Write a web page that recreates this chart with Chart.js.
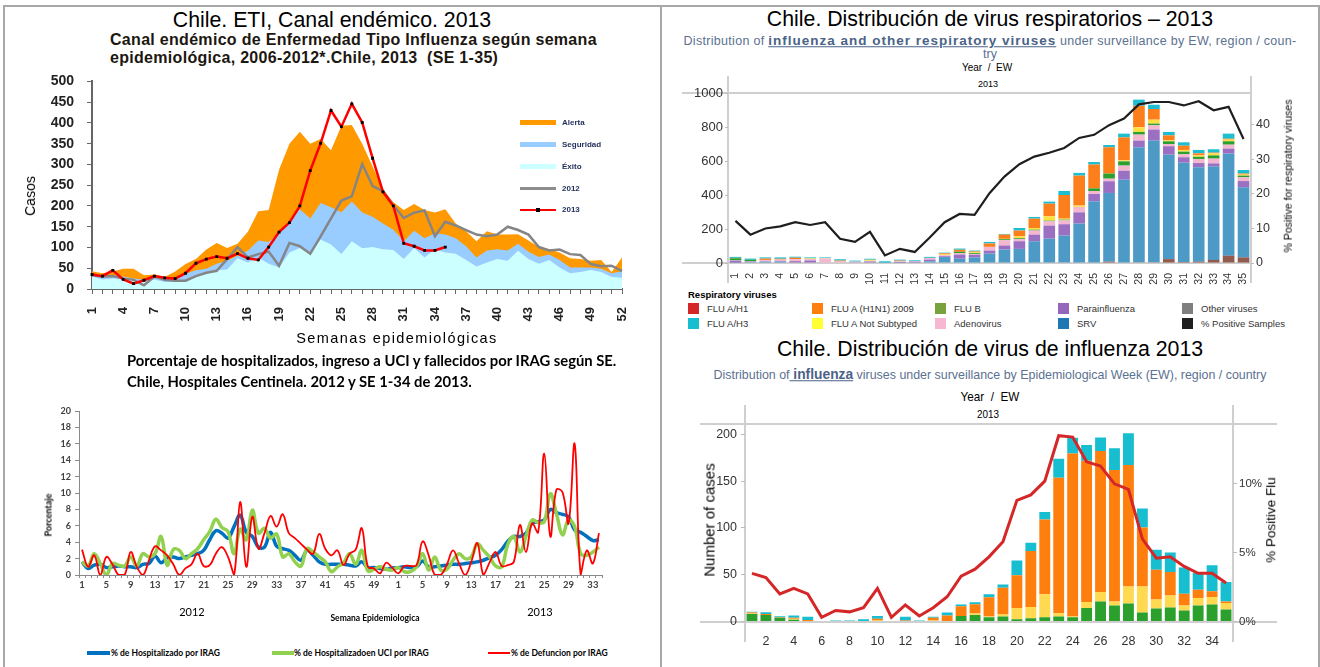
<!DOCTYPE html>
<html lang="es">
<head>
<meta charset="utf-8">
<title>Chile 2013 – vigilancia de influenza</title>
<script src="https://cdn.jsdelivr.net/npm/chart.js@4.4.1/dist/chart.umd.min.js"></script>
<style>
  html, body { margin: 0; padding: 0; background: #fff; }
  #page { position: relative; width: 1320px; height: 667px; overflow: hidden;
          font-family: "Liberation Sans", Arial, sans-serif; color: #000; }
  .t { position: absolute; white-space: nowrap; transform: translate(-50%, -50%); line-height: 1; }
  .l { position: absolute; white-space: nowrap; transform: translateY(-50%); line-height: 1; }
  .v { position: absolute; white-space: nowrap; transform: translate(-50%, -50%) rotate(-90deg); line-height: 1; }
  .rule { position: absolute; background: #a8a8a8; }
  .hair { position: absolute; background: #cfcfcf; }
  .sw { position: absolute; }
  canvas { position: absolute; }
  .cal { font-family: Lato, "Open Sans", sans-serif; }
  .sub { color: #5b7191; }
  .sub b { color: #4a6386; text-decoration: underline; }
  .big { font-size: 21.3px; }
</style>
</head>
<body>
<div id="page">
  <!-- marco de la tabla -->
  <div class="rule" style="left:3px;top:5px;width:1317px;height:2px"></div>
  <div class="rule" style="left:3px;top:5px;width:2px;height:662px"></div>
  <div class="rule" style="left:660px;top:5px;width:2px;height:662px"></div>
  <div class="rule" style="left:1318px;top:5px;width:2px;height:662px"></div>

  <!-- 1. canal endemico -->
  <div class="t big" style="left:332px;top:21px">Chile. ETI, Canal endémico. 2013</div>
  <div class="l" style="left:110px;top:40px;font-size:16px;font-weight:bold;letter-spacing:0.3px;color:#1c1710">Canal endémico de Enfermedad Tipo Influenza según semana</div>
  <div class="l" style="left:110px;top:58px;font-size:16px;font-weight:bold;letter-spacing:0.3px;color:#1c1710">epidemiológica, 2006-2012*.Chile, 2013&nbsp; (SE 1-35)</div>
  <canvas id="c1" width="660" height="290" style="left:0;top:60px"></canvas>
  <div class="v" style="left:30px;top:196px;font-size:14px">Casos</div>
  <div class="t" style="left:397px;top:338px;font-size:14.5px;letter-spacing:1.4px">Semanas epidemiológicas</div>
  <div class="sw" style="left:520px;top:120px;width:36px;height:5px;background:#ff9900"></div>
  <div class="l" style="left:562px;top:123px;font-size:8px;font-weight:bold;color:#1f2d5a">Alerta</div>
  <div class="sw" style="left:520px;top:142px;width:36px;height:5px;background:#99ccff"></div>
  <div class="l" style="left:562px;top:145px;font-size:8px;font-weight:bold;color:#1f2d5a">Seguridad</div>
  <div class="sw" style="left:520px;top:164px;width:36px;height:5px;background:#ccffff"></div>
  <div class="l" style="left:562px;top:167px;font-size:8px;font-weight:bold;color:#1f2d5a">Éxito</div>
  <div class="sw" style="left:520px;top:187px;width:36px;height:3px;background:#8c8c8c"></div>
  <div class="l" style="left:562px;top:189px;font-size:8px;font-weight:bold;color:#1f2d5a">2012</div>
  <div class="sw" style="left:520px;top:209px;width:36px;height:2px;background:#ff0000"></div>
  <div class="sw" style="left:536px;top:208px;width:4px;height:4px;background:#000"></div>
  <div class="l" style="left:562px;top:210px;font-size:8px;font-weight:bold;color:#1f2d5a">2013</div>

  <!-- 2. hospitalizados -->
  <div class="l cal" style="left:127px;top:360px;font-size:14.8px;font-weight:700">Porcentaje de hospitalizados, ingreso a UCI y fallecidos por IRAG según SE.</div>
  <div class="l cal" style="left:127px;top:381px;font-size:14.8px;font-weight:700">Chile, Hospitales Centinela. 2012 y SE 1-34 de 2013.</div>
  <canvas id="c2" width="660" height="230" style="left:0;top:395px"></canvas>
  <div class="v cal" style="left:48px;top:515px;font-size:9px;font-weight:700">Porcentaje</div>
  <div class="t cal" style="left:192px;top:611px;font-size:11px">2012</div>
  <div class="t cal" style="left:540px;top:611px;font-size:11px">2013</div>
  <div class="t cal" style="left:375px;top:618px;font-size:8.5px;font-weight:700">Semana Epidemiologica</div>
  <div class="sw" style="left:87px;top:651px;width:23px;height:4px;background:#0070c0"></div>
  <div class="l cal" style="left:111px;top:653px;font-size:8.5px;font-weight:700">% de Hospitalizado por IRAG</div>
  <div class="sw" style="left:272px;top:651px;width:22px;height:4px;background:#92d050"></div>
  <div class="l cal" style="left:294px;top:653px;font-size:8.5px;font-weight:700">% de Hospitalizadoen UCI por IRAG</div>
  <div class="sw" style="left:488px;top:652px;width:22px;height:2px;background:#ff0000"></div>
  <div class="l cal" style="left:511px;top:653px;font-size:8.5px;font-weight:700">% de Defuncion por IRAG</div>

  <!-- 3. virus respiratorios -->
  <div class="t big" style="left:990px;top:20px">Chile. Distribución de virus respiratorios – 2013</div>
  <div class="t sub" style="left:990px;top:41px;font-size:12.5px;letter-spacing:0.3px">Distribution of <b style="font-size:13.5px;letter-spacing:1px">influenza and other respiratory viruses</b> under surveillance by EW, region / coun-</div>
  <div class="t sub" style="left:990px;top:54px;font-size:12.5px">try</div>
  <div class="t" style="left:987px;top:68px;font-size:10px">Year&nbsp; /&nbsp; EW</div>
  <div class="t" style="left:988px;top:84px;font-size:9px">2013</div>
  <div class="hair" style="left:682px;top:92px;width:570px;height:2px"></div>
  <div class="hair" style="left:682px;top:262px;width:570px;height:2px"></div>
  <div class="hair" style="left:727px;top:76px;width:2px;height:207px"></div>
  <div class="hair" style="left:1250px;top:76px;width:2px;height:207px"></div>
  <canvas id="c3" width="658" height="225" style="left:662px;top:60px"></canvas>
  <div class="v" style="left:1288px;top:176px;font-size:10.5px">% Positive for respiratory viruses</div>
  <div class="l" style="left:688px;top:295px;font-size:9.5px;font-weight:bold">Respiratory viruses</div>
  <div id="legend3"></div>

  <!-- 4. virus de influenza -->
  <div class="t big" style="left:990px;top:350px">Chile. Distribución de virus de influenza 2013</div>
  <div class="t sub" style="left:990px;top:374px;font-size:13.5px;transform:translate(-50%,-50%) scaleX(0.92)">Distribution of<b style="font-size:15px"> influenza</b> viruses under surveillance by Epidemiological Week (EW), region / country</div>
  <div class="t" style="left:990px;top:396px;font-size:13px;transform:translate(-50%,-50%) scaleX(0.9)">Year&nbsp; /&nbsp; EW</div>
  <div class="t" style="left:988px;top:414px;font-size:11px;transform:translate(-50%,-50%) scaleX(0.9)">2013</div>
  <div class="hair" style="left:700px;top:423px;width:577px;height:2px"></div>
  <div class="hair" style="left:700px;top:621px;width:577px;height:2px"></div>
  <div class="hair" style="left:744px;top:405px;width:2px;height:237px"></div>
  <div class="hair" style="left:1232px;top:405px;width:2px;height:237px"></div>
  <canvas id="c4" width="658" height="250" style="left:662px;top:400px"></canvas>
  <div class="v" style="left:709px;top:520px;font-size:15px">Number of cases</div>
  <div class="v" style="left:1271px;top:520px;font-size:13.5px">% Positive Flu</div>
</div>

<script>
// ---- datos: canal endemico ETI (semanas 1-52) ----
const semanas52 = Array.from({ length: 52 }, (_, i) => String(i + 1));
const alerta = [43,38,42,49,49,33,35,29,42,60,72,95,111,99,109,138,187,190,287,350,379,350,361,334,393,395,350,295,240,209,190,205,190,184,192,158,139,115,139,131,131,132,117,101,96,88,74,72,68,70,41,76];
const seguridad = [33,30,32,30,25,22,28,25,25,37,45,49,61,68,80,92,117,113,134,162,192,170,207,197,185,211,184,174,158,143,115,140,122,134,131,122,103,76,93,96,93,109,90,77,83,70,52,52,52,49,38,43];
const exito = [30,23,25,25,20,17,23,17,17,17,29,41,45,47,74,64,76,61,52,88,99,84,119,107,84,115,98,101,96,94,72,99,76,96,88,85,70,54,64,72,68,92,72,61,70,52,38,41,46,41,29,27];
const casos2012 = [33,30,31,25,22,9,30,22,20,20,31,39,44,72,101,76,84,90,56,111,103,85,127,170,213,223,301,248,236,201,171,184,189,127,162,153,142,131,127,131,150,142,131,101,93,95,84,82,60,55,56,43];
const casos2013 = [35,31,45,23,13,21,31,27,25,38,62,72,78,74,85,74,70,101,137,160,200,285,351,430,391,446,401,315,234,200,110,103,93,93,101];

// ---- datos: IRAG 2012 (SE 1-52) y 2013 (SE 1-34) ----
const semanasIrag = [...Array.from({ length: 52 }, (_, i) => String(i + 1)), ...Array.from({ length: 34 }, (_, i) => String(i + 1))];
const hospIrag = [1.6,0.8,1.2,1.3,0.9,1.0,1.1,1.0,1.0,0.9,1.3,1.4,2.3,1.5,2.1,2.2,2.0,2.2,2.4,2.6,3.0,4.3,5.4,5.1,4.5,5.9,7.3,5.2,4.7,3.4,3.4,5.2,3.5,3.2,3.0,2.4,1.8,3.0,2.4,1.6,1.3,
  1.3,1.3,1.3,1.2,1.1,1.6,0.9,0.9,0.8,0.7,0.85,0.9,1.0,0.9,1.0,1.7,1.0,1.0,1.1,1.2,1.3,1.3,1.4,1.5,1.6,1.8,2.1,2.4,3.1,4.1,4.7,4.7,5.1,6.3,6.5,6.7,8.0,7.6,7.4,7.1,5.5,5.2,4.7,4.2,4.3];
const uciIrag = [1.6,1.1,2.6,1.4,0,1.4,1.2,1.1,2.2,1.1,2.6,2.2,2.6,4.7,1.2,3.1,3.0,2.0,2.6,3.2,4.3,5.3,6.8,5.8,5.3,2.6,5.6,4.3,7.9,5.1,5.7,4.5,5.0,2.2,2.6,1.6,1.1,3.2,2.8,2.2,1.6,
  0.4,1.0,1.5,2.6,1.3,3.0,0.5,0.7,1.0,0.7,0.6,0.9,0.4,0.4,1.0,2.6,0.6,2.2,0.6,0.7,1.8,2.6,2.0,2.2,3.8,3.0,2.2,1.1,1.0,3.7,4.7,2.8,4.7,6.7,6.4,6.5,9.9,7.5,4.9,6.7,5.9,2.6,2.4,2.8,3.4];
const defIrag = [3.1,1.0,2.4,0,2.2,1.3,0,0,2.8,1.0,0,1.8,3.5,3.0,2.4,1.3,0,0.8,1.3,2.6,1.1,1.2,2.6,3.4,2.2,0,8.9,1.0,7.1,3.2,5.1,7.2,5.9,7.4,5.1,4.5,3.8,3.1,2.6,5.0,3.2,
  2.4,3.0,1.2,2.6,3.1,5.7,1.0,0.8,0.2,1.5,0.9,0.2,1.1,1.1,1.2,4.1,2.4,0,0,1.3,3.0,1.4,0,1.6,3.9,0,1.5,2.8,1.1,1.2,1.6,6.1,2.8,6.3,5.2,14.8,4.7,10.4,10.1,6.3,16.0,0,3.0,1.4,5.1];

// ---- datos: virus respiratorios 2013 (EW 1-35) ----
const ew35 = Array.from({ length: 35 }, (_, i) => String(i + 1));
const otrosVirus = [0,0,0,0,0,0,0,0,0,0,0,0,0,0,0,0,0,0,0,0,0,0,0,0,0,8,0,4,4,23,6,8,18,43,33];
const srv = [2,5,8,8,3,3,3,3,2,3,2,2,3,10,35,25,33,55,79,83,128,143,161,232,363,404,490,677,716,614,584,555,549,600,412];
const parainfluenza = [12,4,2,4,8,12,0,0,0,6,0,4,5,10,5,25,15,18,24,45,39,77,67,66,43,69,53,39,65,50,32,25,19,30,37];
const adenovirus = [2,2,8,8,12,8,24,6,6,4,0,4,3,10,6,8,5,22,31,14,24,25,23,32,17,15,30,35,25,13,19,24,28,23,22];
const fluB = [12,8,0,0,0,0,0,0,0,0,0,0,0,0,0,8,5,0,6,5,5,4,4,0,16,30,25,16,10,16,14,13,19,20,10];
const fluANoSub = [0,0,0,0,0,4,2,0,0,6,0,0,0,0,5,0,5,0,2,10,10,26,6,8,0,0,6,27,23,6,10,8,12,10,6];
const fluAH1N1 = [2,0,8,5,8,0,0,5,0,0,0,4,0,0,6,12,5,20,25,34,55,74,139,176,140,155,135,127,63,29,25,12,4,5,6];
const fluAH3 = [6,7,7,8,6,6,4,8,6,6,8,6,5,6,4,7,5,9,4,15,10,12,24,16,15,13,22,36,25,20,20,20,20,30,21];
const pctPositivas = [12.2,8.2,10.0,10.6,11.8,11.0,11.8,7.0,6.1,9.0,2.2,4.1,3.2,7.4,11.8,14.2,13.9,20.2,25.0,28.6,30.8,31.9,33.3,36.2,37.1,39.9,41.8,45.9,46.6,46.6,45.6,46.8,44.2,45.2,35.9];
const ticksVirus = [0, 200, 400, 600, 800, 1000];
const ticksPctVirus = [0, 10, 20, 30, 40];

// ---- datos: virus de influenza 2013 (EW 1-35) ----
const infB = [8,7,4,2,0,0,0,0,0,0,0,0,0,0,0,6,7,4.6,5.4,2.5,3.6,4.6,5.4,4.6,14.3,21.4,17,19.3,9.6,13.9,15,11.8,17.1,18.2,12.9];
const infNoSub = [0.5,0,0,1,0,0,0,0,0,1,0,0,0,1,0.5,0,1.5,0.8,2,11.8,11.8,24.4,3.5,0.8,6.4,10,4.4,18.2,27.9,9.6,12.9,5.4,7.9,7.9,6.8];
const infH1N1 = [1,1,0.6,1,1.5,0,0,0,0,2,0,1,0,3,6,10.4,10,20.6,28.6,35,60,80,144.7,174,151,150.7,140.4,129.6,62.9,31.8,25,12.5,8.9,6.1,1.8];
const infH3 = [1,2,1,2.5,3.5,0,1,1,2.5,3,0,4,1,1,3,1.8,2,3,3.6,16,8.6,8,20.4,17,16.8,14.6,23.2,34,20.3,21.4,20.7,27.9,17.9,27.9,20.7];
const pctFlu = [3.5,3.2,2.0,2.4,2.0,0.3,0.8,0.7,1.0,2.4,0.3,1.2,0.4,1.0,1.8,3.3,3.8,4.7,5.8,8.8,9.2,10.2,13.5,13.4,11.6,11.3,10.0,9.6,6.0,4.6,4.7,4.0,3.5,3.5,2.8];
const ticksCasosFlu = [0, 50, 100, 150, 200];
const ticksPctFlu = [0, 5, 10];

// leyenda virus respiratorios (colores del recuadro original)
const leyenda3 = [
  ['FLU A/H1', '#d62728'], ['FLU A/H3', '#17becf'],
  ['FLU A (H1N1) 2009', '#ff7f0e'], ['FLU A Not Subtyped', '#ffff33'],
  ['FLU B', '#78a33c'], ['Adenovirus', '#f7b6d2'],
  ['Parainfluenza', '#9467bd'], ['SRV', '#1f77b4'],
  ['Other viruses', '#7f7f7f'], ['% Positive Samples', '#1f1f1f']
];

const ARIAL = "'Liberation Sans', Arial, sans-serif";
const CAL = "Lato, 'Open Sans', sans-serif";

Chart.defaults.animation = false;
Chart.defaults.responsive = false;
Chart.defaults.devicePixelRatio = 1;
Chart.defaults.plugins.legend.display = false;
Chart.defaults.plugins.tooltip.enabled = false;
Chart.defaults.font.family = ARIAL;

const fijarTicks = valores => s => { s.ticks = valores.map(value => ({ value })); };

// leyenda html del grafico 3
(function () {
  const box = document.getElementById('legend3');
  const colX = [688, 812, 935, 1058, 1182];
  leyenda3.forEach(([name, color], i) => {
    const col = Math.floor(i / 2), row = i % 2;
    const sw = document.createElement('div');
    sw.className = 'sw';
    sw.style.cssText = `left:${colX[col]}px;top:${303 + row * 15}px;width:11px;height:11px;background:${color}`;
    const tx = document.createElement('div');
    tx.className = 'l';
    tx.style.cssText = `left:${colX[col] + 19}px;top:${309 + row * 15}px;font-size:9.5px;color:#333`;
    tx.textContent = name;
    box.appendChild(sw);
    box.appendChild(tx);
  });
})();

// 1. canal endemico
new Chart(document.getElementById('c1'), {
  type: 'line',
  data: {
    labels: semanas52,
    datasets: [
      { label: 'Alerta', data: alerta, fill: 'origin', backgroundColor: '#ff9900', borderColor: 'transparent', borderWidth: 0, pointRadius: 0, order: 5 },
      { label: 'Seguridad', data: seguridad, fill: 'origin', backgroundColor: '#99ccff', borderColor: 'transparent', borderWidth: 0, pointRadius: 0, order: 4 },
      { label: 'Éxito', data: exito, fill: 'origin', backgroundColor: '#ccffff', borderColor: 'transparent', borderWidth: 0, pointRadius: 0, order: 3 },
      { label: '2012', data: casos2012, borderColor: '#858585', borderWidth: 2.5, pointRadius: 0, order: 2 },
      { label: '2013', data: casos2013, borderColor: '#ff0000', borderWidth: 2.5, pointStyle: 'rect', pointRadius: 2,
        pointBackgroundColor: '#000', pointBorderColor: '#000', pointBorderWidth: 0, order: 1 }
    ]
  },
  options: {
    layout: { padding: { left: 0, right: 38, top: 16, bottom: 0 } },
    scales: {
      x: {
        grid: { drawOnChartArea: false, tickLength: 5, color: '#666' },
        border: { color: '#666', width: 2 },
        ticks: { autoSkip: false, maxRotation: 90, minRotation: 90, padding: 13, color: '#222',
          font: { size: 13, weight: 'bold' },
          callback: (v, i) => (i % 3 === 0 ? semanas52[i] : '') },
        afterFit: s => { s.height = 61; }
      },
      y: {
        min: 0, max: 500,
        grid: { drawOnChartArea: false, tickLength: 5, color: '#666' },
        border: { color: '#666', width: 2 },
        ticks: { stepSize: 50, padding: 13, color: '#222', font: { size: 14, weight: 'bold' } },
        afterFit: s => { s.width = 92; }
      }
    }
  }
});

// 2. hospitalizados / UCI / defunciones
new Chart(document.getElementById('c2'), {
  type: 'line',
  data: {
    labels: semanasIrag,
    datasets: [
      { label: '% de Hospitalizado por IRAG', data: hospIrag, borderColor: '#0070c0', borderWidth: 3.5, pointRadius: 0, tension: 0.4, order: 3 },
      { label: '% de Hospitalizadoen UCI por IRAG', data: uciIrag, borderColor: '#92d050', borderWidth: 3.5, pointRadius: 0, tension: 0.4, order: 2 },
      { label: '% de Defuncion por IRAG', data: defIrag, borderColor: '#ff0000', borderWidth: 1.8, pointRadius: 0, tension: 0.4, order: 1 }
    ]
  },
  options: {
    layout: { padding: { left: 0, right: 58, top: 16, bottom: 0 } },
    scales: {
      x: {
        offset: true,
        grid: { offset: true, drawOnChartArea: false, tickLength: 3, color: '#8a8a8a' },
        border: { color: '#8a8a8a' },
        ticks: { autoSkip: false, maxRotation: 0, minRotation: 0, padding: 1, color: '#404040',
          font: { family: CAL, size: 9.5, weight: 'bold' },
          callback: (v, i) => (i % 4 === 0 ? semanasIrag[i] : '') },
        afterFit: s => { s.height = 50; }
      },
      y: {
        min: 0, max: 20,
        grid: { drawOnChartArea: false, tickLength: 4, color: '#8a8a8a' },
        border: { color: '#8a8a8a' },
        ticks: { stepSize: 2, padding: 4, color: '#404040', font: { family: CAL, size: 9, weight: 'bold' } },
        afterFit: s => { s.width = 79; }
      }
    }
  }
});

// 3. virus respiratorios
const barra = (label, data, color) => ({ type: 'bar', label, data, backgroundColor: color, yAxisID: 'y',
  barPercentage: 0.78, categoryPercentage: 1, order: 1 });
new Chart(document.getElementById('c3'), {
  type: 'bar',
  data: {
    labels: ew35,
    datasets: [
      { type: 'line', label: '% Positive Samples', data: pctPositivas, yAxisID: 'y1', borderColor: '#1e1e1e',
        borderWidth: 2.2, pointRadius: 0, order: 0 },
      barra('Other viruses', otrosVirus, '#935b4d'),
      barra('SRV', srv, '#4e9ac7'),
      barra('Parainfluenza', parainfluenza, '#9b70c2'),
      barra('Adenovirus', adenovirus, '#f5b6d0'),
      barra('FLU B', fluB, '#2ca02c'),
      barra('FLU A Not Subtyped', fluANoSub, '#ffdf40'),
      barra('FLU A (H1N1) 2009', fluAH1N1, '#fd7f1c'),
      barra('FLU A/H3', fluAH3, '#1dbecf')
    ]
  },
  options: {
    layout: { padding: { left: 0, right: 29, top: 33, bottom: 0 } },
    scales: {
      x: {
        stacked: true,
        grid: { display: false }, border: { display: false },
        ticks: { autoSkip: false, maxRotation: 90, minRotation: 90, padding: 2, color: '#333', font: { size: 10.5 } },
        afterFit: s => { s.height = 22; }
      },
      y: {
        stacked: true, min: 0, max: 1000,
        grid: { drawOnChartArea: false, tickLength: 3, color: '#bbb' }, border: { display: false },
        ticks: { padding: 2, color: '#333', font: { size: 13 }, callback: v => String(v) },
        afterBuildTicks: fijarTicks(ticksVirus),
        afterFit: s => { s.width = 66; }
      },
      y1: {
        position: 'right', min: 0, max: 49.2,
        grid: { drawOnChartArea: false, tickLength: 3, color: '#bbb' }, border: { display: false },
        ticks: { padding: 2, color: '#333', font: { size: 12.5 }, callback: v => String(v) },
        afterBuildTicks: fijarTicks(ticksPctVirus),
        afterFit: s => { s.width = 40; }
      }
    }
  }
});

// 4. virus de influenza
new Chart(document.getElementById('c4'), {
  type: 'bar',
  data: {
    labels: ew35,
    datasets: [
      { type: 'line', label: '% Positive Flu', data: pctFlu, yAxisID: 'y1', borderColor: '#d62728',
        borderWidth: 3, pointRadius: 0, order: 0 },
      barra('FLU B', infB, '#2ca02c'),
      barra('FLU A Not Subtyped', infNoSub, '#ffd94f'),
      barra('FLU A (H1N1) 2009', infH1N1, '#ff7f0e'),
      barra('FLU A/H3', infH3, '#17becf')
    ]
  },
  options: {
    layout: { padding: { left: 0, right: 47, top: 24, bottom: 0 } },
    scales: {
      x: {
        stacked: true,
        grid: { display: false }, border: { display: false },
        ticks: { autoSkip: false, maxRotation: 0, minRotation: 0, padding: 5, color: '#333',
          font: { size: 12.5 },
          callback: (v, i) => ((i + 1) % 2 === 0 ? ew35[i] : '') },
        afterFit: s => { s.height = 28.5; }
      },
      y: {
        stacked: true, min: 0, max: 211,
        grid: { drawOnChartArea: false, tickLength: 4, color: '#bbb' }, border: { display: false },
        ticks: { padding: 4, color: '#333', font: { size: 12.5 } },
        afterBuildTicks: fijarTicks(ticksCasosFlu),
        afterFit: s => { s.width = 83; }
      },
      y1: {
        position: 'right', min: 0, max: 14.35,
        grid: { drawOnChartArea: false, tickLength: 4, color: '#bbb' }, border: { display: false },
        ticks: { padding: 2, color: '#333', font: { size: 11.5 }, callback: v => v + '%' },
        afterBuildTicks: fijarTicks(ticksPctFlu),
        afterFit: s => { s.width = 40; }
      }
    }
  }
});
</script>
</body>
</html>
